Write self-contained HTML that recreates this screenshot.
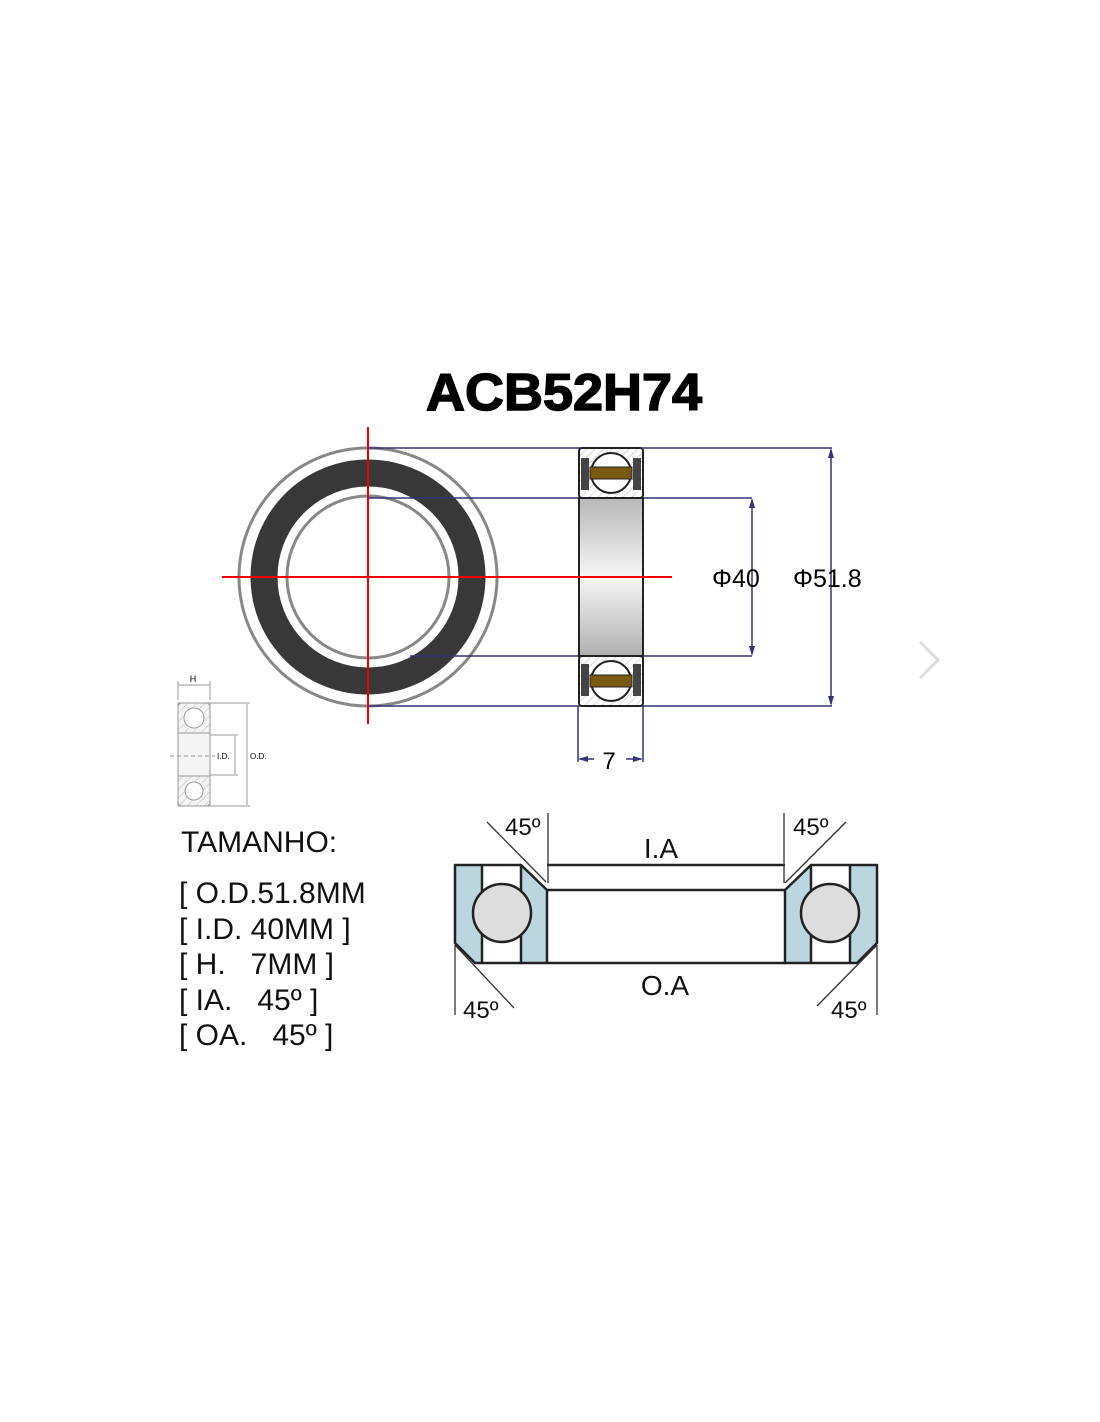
<!DOCTYPE html>
<html><head><style>
body{margin:0;background:#fff;}
svg{display:block;}
text{font-family:"Liberation Sans",sans-serif;}
</style></head><body>
<svg width="1100" height="1422" viewBox="0 0 1100 1422" xmlns="http://www.w3.org/2000/svg">
<defs>
<linearGradient id="bore" x1="0" y1="0" x2="0" y2="1">
<stop offset="0" stop-color="#b8b8b8"/><stop offset="0.5" stop-color="#f6f6f6"/><stop offset="1" stop-color="#b0b0b0"/>
</linearGradient>
<pattern id="hatch" width="6" height="6" patternUnits="userSpaceOnUse" patternTransform="rotate(45)">
<line x1="0" y1="0" x2="0" y2="6" stroke="#bbb" stroke-width="1"/>
</pattern>
</defs>
<text x="564" y="410" font-size="52" font-weight="bold" text-anchor="middle" textLength="276" lengthAdjust="spacingAndGlyphs" stroke="#000" stroke-width="1.5">ACB52H74</text>

<!-- front view -->
<circle cx="368" cy="577" r="129" fill="#fff" stroke="#888" stroke-width="3"/>
<circle cx="368" cy="577" r="104" fill="none" stroke="#383838" stroke-width="27"/>
<circle cx="368" cy="577" r="81" fill="none" stroke="#888" stroke-width="3"/>

<!-- blue lines -->
<g stroke="#33337a" stroke-width="1.5" fill="none">
<line x1="368" y1="448" x2="832" y2="448"/>
<line x1="368" y1="498" x2="752" y2="498"/>
<line x1="410" y1="656" x2="752" y2="656"/>
<line x1="368" y1="706" x2="832" y2="706"/>
<line x1="752" y1="500" x2="752" y2="654"/>
<line x1="831" y1="450" x2="831" y2="704"/>
<line x1="578" y1="706" x2="578" y2="762"/>
<line x1="643" y1="706" x2="643" y2="762"/>
<line x1="580" y1="759" x2="594" y2="759"/>
<line x1="626" y1="759" x2="641" y2="759"/>
</g>
<g fill="#33337a">
<polygon points="752,498 749,508 755,508"/><polygon points="752,656 749,646 755,646"/>
<polygon points="831,448 828,458 834,458"/><polygon points="831,706 828,696 834,696"/>
<polygon points="578,759 588,756 588,762"/><polygon points="643,759 633,756 633,762"/>
</g>
<text x="712" y="587" font-size="25">Φ40</text>
<text x="793" y="587" font-size="25">Φ51.8</text>
<text x="609" y="769" font-size="24" text-anchor="middle">7</text>

<!-- side view -->
<rect x="579" y="498" width="64" height="158" fill="url(#bore)" stroke="#222" stroke-width="2"/>
<g>
<rect x="579" y="448" width="64" height="50" rx="3" fill="url(#hatch)" stroke="#222" stroke-width="2"/>
<rect x="581" y="458" width="8" height="32" fill="#444"/><rect x="633" y="458" width="8" height="32" fill="#444"/>
<circle cx="611" cy="473" r="20" fill="#fff" stroke="#222" stroke-width="2"/>
<rect x="590" y="467" width="42" height="12" fill="#7a5a12" stroke="#222"/>
<rect x="579" y="656" width="64" height="50" rx="3" fill="url(#hatch)" stroke="#222" stroke-width="2"/>
<rect x="581" y="664" width="8" height="32" fill="#444"/><rect x="633" y="664" width="8" height="32" fill="#444"/>
<circle cx="611" cy="681" r="20" fill="#fff" stroke="#222" stroke-width="2"/>
<rect x="590" y="675" width="42" height="12" fill="#7a5a12" stroke="#222"/>
</g>

<!-- red cross -->
<line x1="222" y1="577" x2="672" y2="577" stroke="#e00" stroke-width="2"/>
<line x1="368" y1="427" x2="368" y2="724" stroke="#e00" stroke-width="2"/>

<!-- chevron -->
<polyline points="920,642 938,660 920,678" fill="none" stroke="#ddd" stroke-width="3"/>

<!-- small icon -->
<g stroke="#999" fill="none" stroke-width="1">
<rect x="178" y="703" width="32" height="103" rx="4" fill="#f4f4f4"/>
<rect x="178" y="703" width="32" height="30" fill="url(#hatch)"/>
<rect x="178" y="776" width="32" height="30" fill="url(#hatch)"/>
<circle cx="194" cy="718" r="10" fill="#fff"/>
<circle cx="194" cy="791" r="9" fill="#fff"/>
<line x1="178" y1="685" x2="210" y2="685"/>
<line x1="178" y1="681" x2="178" y2="700"/><line x1="210" y1="681" x2="210" y2="700"/>
<line x1="210" y1="703" x2="250" y2="703"/><line x1="210" y1="806" x2="250" y2="806"/>
<line x1="247" y1="704" x2="247" y2="805"/>
<line x1="210" y1="735" x2="238" y2="735"/><line x1="210" y1="775" x2="238" y2="775"/>
<line x1="235" y1="736" x2="235" y2="774"/>
<line x1="170" y1="756" x2="215" y2="756" stroke-dasharray="4,3"/>
</g>
<text x="193" y="682" font-size="9" text-anchor="middle">H</text>
<text x="217" y="759" font-size="8">I.D.</text>
<text x="250" y="759" font-size="8">O.D.</text>

<!-- text list -->
<g font-size="30" fill="#111">
<text x="181" y="852">TAMANHO:</text>
<text x="179" y="903">[ O.D.51.8MM</text>
<text x="179" y="939">[ I.D. 40MM ]</text>
<text x="179" y="974">[ H.&#160;&#160; 7MM ]</text>
<text x="179" y="1010">[ IA.&#160;&#160; 45º ]</text>
<text x="179" y="1045">[ OA.&#160;&#160; 45º ]</text>
</g>

<!-- angular contact diagram -->
<g stroke="#222" stroke-width="2.5" stroke-linejoin="round">
<polygon points="455,865 482,865 482,963 475,963 455,943" fill="#bcd6df"/>
<polygon points="521,865 547,890 547,963 521,963" fill="#bcd6df"/>
<polygon points="877,865 850,865 850,963 857,963 877,943" fill="#bcd6df"/>
<polygon points="811,865 785,890 785,963 811,963" fill="#bcd6df"/>
<line x1="482" y1="865" x2="521" y2="865"/><line x1="482" y1="963" x2="521" y2="963"/>
<line x1="811" y1="865" x2="850" y2="865"/><line x1="811" y1="963" x2="850" y2="963"/>
<line x1="547" y1="865" x2="785" y2="865"/>
<line x1="547" y1="890" x2="785" y2="890"/>
<line x1="547" y1="963" x2="785" y2="963"/>
<circle cx="502" cy="913" r="29" fill="#ddd"/>
<circle cx="830" cy="913" r="29" fill="#ddd"/>
</g>
<g stroke="#333" stroke-width="1.3">
<line x1="487" y1="822" x2="546" y2="882"/><line x1="548" y1="813" x2="548" y2="883"/>
<line x1="846" y1="822" x2="785" y2="883"/><line x1="784" y1="813" x2="784" y2="883"/>
<line x1="455" y1="945" x2="514" y2="1008"/><line x1="455" y1="945" x2="455" y2="1015"/>
<line x1="877" y1="945" x2="817" y2="1006"/><line x1="877" y1="945" x2="877" y2="1015"/>
</g>
<g font-size="24" fill="#111">
<text x="505" y="835">45º</text>
<text x="793" y="835">45º</text>
<text x="463" y="1018">45º</text>
<text x="831" y="1018">45º</text>
<text x="661" y="858" font-size="28" text-anchor="middle">I.A</text>
<text x="665" y="995" font-size="28" text-anchor="middle">O.A</text>
</g>
</svg>
</body></html>
